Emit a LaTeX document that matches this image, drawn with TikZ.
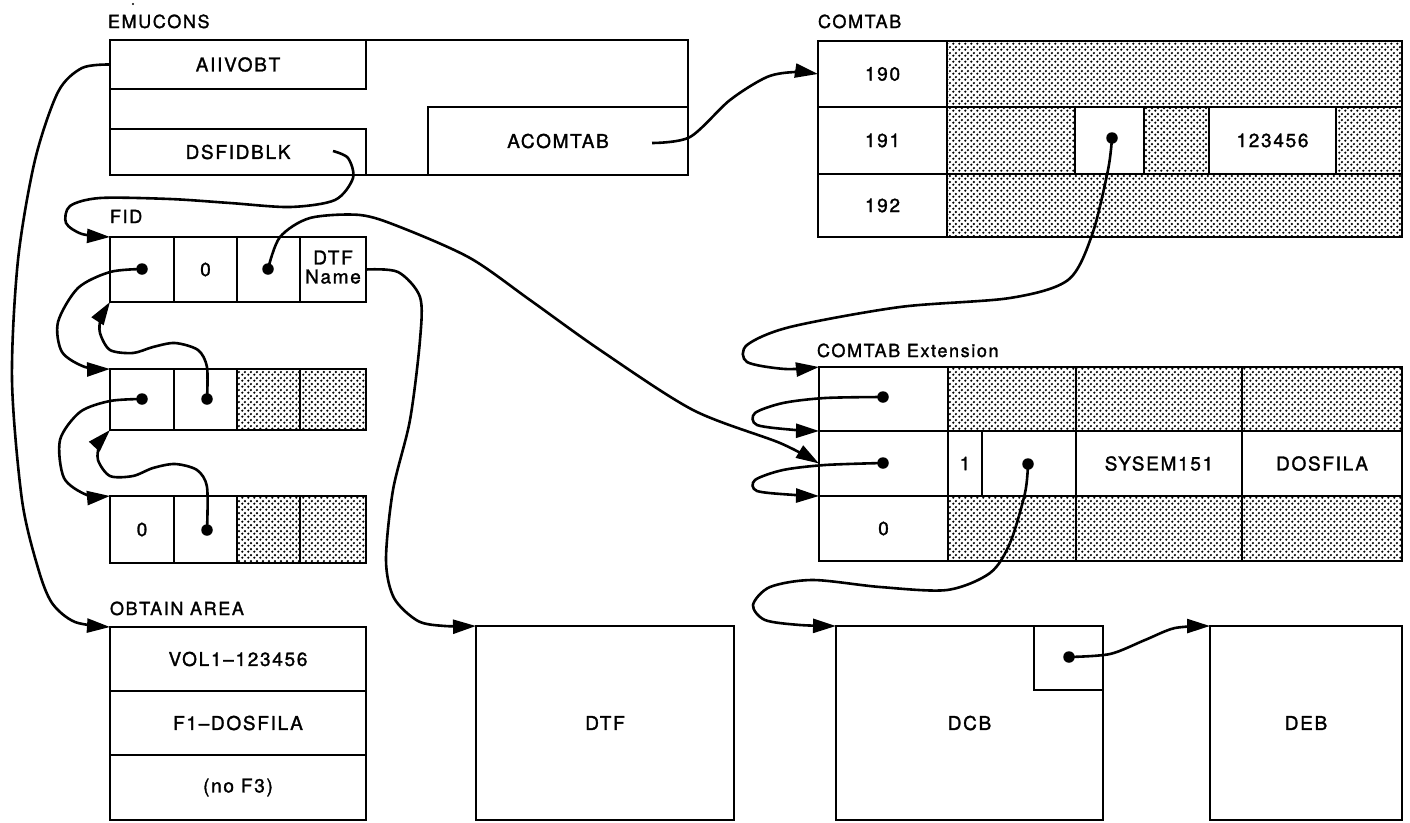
\documentclass[tikz,border=0pt]{standalone}
\usepackage{fontspec}
\setmainfont{TeX Gyre Heros}[LetterSpace=9,FakeBold=1.5]
\usetikzlibrary{patterns,fit,arrows.meta}
\pgfdeclarepatternformonly{scandots}{\pgfqpoint{0pt}{0pt}}{\pgfqpoint{5.6pt}{5.6pt}}{\pgfqpoint{5.6pt}{5.6pt}}{%
  \pgfpathcircle{\pgfqpoint{1.4pt}{1.4pt}}{1.3pt}%
  \pgfpathcircle{\pgfqpoint{4.2pt}{4.2pt}}{1.3pt}%
  \pgfusepath{fill}}
\tikzset{
  box/.style={draw, line width=2.7pt, inner sep=0pt, outer sep=0pt},
  boxtext/.style={inner sep=0pt, outer sep=0pt, font=\fontsize{19}{22}\selectfont},
  shade/.style={pattern=scandots},
  lbl/.style={anchor=base west, inner sep=0pt, outer sep=0pt, font=\fontsize{18}{20}\selectfont},
  bullet/.style={circle, fill, inner sep=0pt, outer sep=0pt, minimum size=11.5pt},
  conn/.style={line width=2.6pt, -{Triangle[length=23pt,width=14pt]}},
}
\newcommand\Bx[4][]{\node[box,#1,fit={#3}] (#2) {};\node[boxtext] (#2t) at (#2.center) {#4};}
\begin{document}
\begin{tikzpicture}[x=1pt,y=-1pt]
\useasboundingbox (0,0) rectangle (1410,822);
\fill (133,4) circle (1.2pt);

% ---------- EMUCONS ----------
\node[lbl] (lemu) at (108,28) {EMUCONS};
\Bx{emu}{(110,40) (688,175)}{}
\Bx{aiiv}{(110,40) (366,89)}{AIIVOBT}
\Bx{dsf}{(110,129) (366,175)}{DSFIDBLK}
\Bx{acom}{(428,107) (688,175)}{ACOMTAB}
\coordinate (dsfo) at (333,151);
\coordinate (acomo) at (652,143);

% ---------- COMTAB ----------
\node[lbl] (lcom) at (818,28) {COMTAB};
\Bx{c190}{(818,41) (947,107)}{190}
\Bx{c191}{(818,107) (947,174)}{191}
\Bx{c192}{(818,174) (947,237)}{192}
\Bx[shade]{s190}{(947,41) (1402,107)}{}
\Bx[shade]{s191a}{(947,107) (1075,174)}{}
\Bx{w191}{(1075,107) (1144,174)}{}
\Bx[shade]{s191b}{(1144,107) (1209,174)}{}
\Bx{v191}{(1209,107) (1336,174)}{123456}
\Bx[shade]{s191c}{(1336,107) (1402,174)}{}
\Bx[shade]{s192}{(947,174) (1402,237)}{}
\node[bullet] (d191) at (1112,138) {};

% ---------- FID ----------
\node[lbl] (lfid) at (110,223) {FID};
\Bx{fid1}{(110,237) (174,302)}{}
\Bx{fid2}{(174,237) (237,302)}{0}
\Bx{fid3}{(237,237) (300,302)}{}
\Bx{fid4}{(300,237) (366,302)}{\begin{tabular}{@{}c@{}}DTF\\[-3pt]Name\end{tabular}}
\node[bullet] (dfid1) at (142,269) {};
\node[bullet] (dfid3) at (268,269) {};

\Bx{r2a}{(110,369) (174,430)}{}
\Bx{r2b}{(174,369) (237,430)}{}
\Bx[shade]{r2c}{(237,369) (300,430)}{}
\Bx[shade]{r2d}{(300,369) (366,430)}{}
\node[bullet] (dr2a) at (142,399) {};
\node[bullet] (dr2b) at (207,399) {};

\Bx{r3a}{(110,496) (174,563)}{0}
\Bx{r3b}{(174,496) (237,563)}{}
\Bx[shade]{r3c}{(237,496) (300,563)}{}
\Bx[shade]{r3d}{(300,496) (366,563)}{}
\node[bullet] (dr3b) at (207,530) {};

% ---------- OBTAIN AREA ----------
\node[lbl] (lobt) at (110,615) {OBTAIN AREA};
\Bx{ob1}{(110,627) (366,691)}{VOL1--123456}
\Bx{ob2}{(110,691) (366,755)}{F1--DOSFILA}
\Bx{ob3}{(110,755) (366,820)}{(no F3)}

% ---------- DTF / DCB / DEB ----------
\Bx{dtf}{(476,626) (734,820)}{DTF}
\Bx{dcb}{(836,626) (1103,820)}{DCB}
\Bx{dcbp}{(1034,626) (1103,690)}{}
\node[bullet] (ddcb) at (1069,657) {};
\Bx{deb}{(1210,626) (1402,820)}{DEB}

% ---------- COMTAB Extension ----------
\node[lbl] (lext) at (817,357) {COMTAB Extension};
\Bx{e1}{(819,367) (948,431)}{}
\Bx[shade]{e1b}{(948,367) (1076,431)}{}
\Bx[shade]{e1c}{(1076,367) (1242,431)}{}
\Bx[shade]{e1d}{(1242,367) (1402,431)}{}
\Bx{e2}{(819,431) (948,496)}{}
\Bx{e2a}{(948,431) (982,496)}{1}
\Bx{e2b}{(982,431) (1076,496)}{}
\Bx{e2c}{(1076,431) (1242,496)}{SYSEM151}
\Bx{e2d}{(1242,431) (1402,496)}{DOSFILA}
\Bx{e3}{(819,496) (948,561)}{0}
\Bx[shade]{e3b}{(948,496) (1076,561)}{}
\Bx[shade]{e3c}{(1076,496) (1242,561)}{}
\Bx[shade]{e3d}{(1242,496) (1402,561)}{}
\node[bullet] (de1) at (883,397) {};
\node[bullet] (de2) at (883,463) {};
\node[bullet] (de2b) at (1028,464) {};

% ---------- connectors ----------
\draw[conn] plot[smooth] coordinates {(aiiv.west) (82,68) (58,92) (35,160) (18,260) (12,380) (22,500) (38,568) (52,603) (75,622) (ob1.north west)};
\draw[conn] plot[smooth] coordinates {(dsfo) (348,158) (353,178) (335,200) (290,207) (230,203) (170,199) (100,198) (70,206) (66,223) (82,234) (fid1.north west)};
\draw[conn] plot[smooth] coordinates {(acomo) (690,137) (730,100) (767,77) (795,72) (c190.west)};
\draw[conn] plot[smooth] coordinates {(d191.center) (1108,170) (1092,235) (1068,280) (1010,298) (900,307) (790,327) (747,345) (747,362) (785,369) (e1.north west)};
\draw[conn] plot[smooth] coordinates {(dfid3.center) (280,237) (310,218) (360,215) (400,227) (470,258) (530,300) (600,350) (693,410) (780,443) (e2.west)};
\draw[conn] plot[smooth] coordinates {(fid4.east) (398,272) (420,297) (420,340) (410,420) (393,490) (386,560) (394,598) (418,621) (445,626) (dtf.north west)};
\draw[conn] plot[smooth] coordinates {(de1.center) (825,398) (783,403) (755,413) (757,425) (795,430) (e2.north west)};
\draw[conn] plot[smooth] coordinates {(de2.center) (825,465) (783,470) (755,480) (757,491) (795,495) (e3.north west)};
\draw[conn] plot[smooth] coordinates {(de2b.center) (1025,493) (1010,543) (990,573) (947,590) (880,587) (813,580) (770,587) (753,605) (765,620) (800,625) (dcb.north west)};
\draw[conn] plot[smooth] coordinates {(ddcb.center) (1110,654) (1145,640) (1175,628) (deb.north west)};
\draw[conn] plot[smooth] coordinates {(dfid1.center) (110,272) (78,288) (58,322) (62,352) (85,367) (r2a.north west)};
\draw[conn] plot[smooth] coordinates {(dr2a.center) (110,401) (80,412) (60,440) (64,478) (87,495) (r3a.north west)};
\draw[conn] plot[smooth] coordinates {(dr2b.center) (207,367) (198,350) (175,343) (153,347) (133,353) (110,350) (100,333) (101,318) (fid1.south west)};
\draw[conn] plot[smooth] coordinates {(dr3b.center) (207,487) (197,470) (175,464) (153,468) (133,476) (110,476) (98,460) (100,443) (r2a.south west)};
\end{tikzpicture}
\end{document}
